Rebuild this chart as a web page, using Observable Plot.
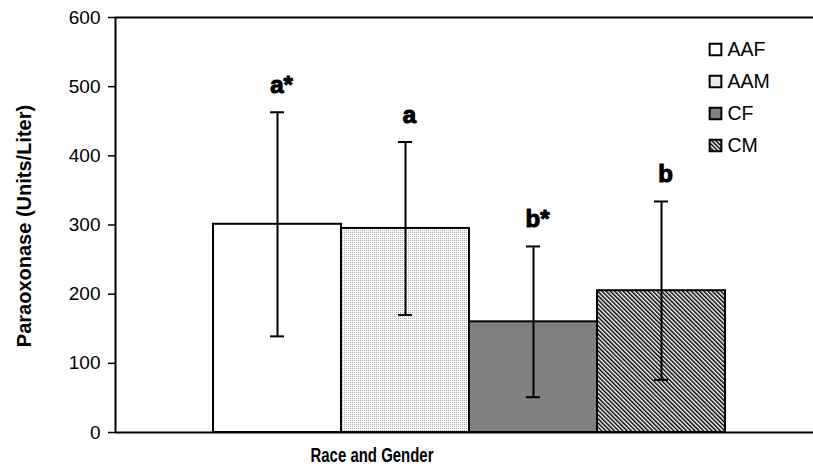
<!DOCTYPE html>
<html>
<head>
<meta charset="utf-8">
<script src="https://cdn.jsdelivr.net/npm/d3@7"></script>
<script src="https://cdn.jsdelivr.net/npm/@observablehq/plot@0.6"></script>
<style>
  html, body { margin: 0; padding: 0; background: #fff; }
  #chart svg { display: block; }
</style>
</head>
<body>
<div id="chart"></div>
<script>
// Serum paraoxonase activity by race and gender (mean ± SD)
const groups = ["AAF", "AAM", "CF", "CM"];
const means = [301, 295, 160, 205];
const sds = [162, 125, 109, 129];
const letters = ["a*", "a", "b*", "b"];
const yTicks = [0, 100, 200, 300, 400, 500, 600];
const yLabel = "Paraoxonase (Units/Liter)";
const xLabel = "Race and Gender";

// fill for each group: white, light stipple, solid gray, diagonal hatch
const fills = ["white", "url(#stipple)", "#808080", "url(#hatch)"];

const rows = groups.map((g, i) => ({
  group: g,
  mean: means[i],
  lo: means[i] - sds[i],
  hi: means[i] + sds[i],
  letter: letters[i],
  fill: fills[i]
}));

const font = "'Liberation Sans', Arial, sans-serif";

// legend swatches and labels stacked in the top-right corner
const legendMarks = groups.flatMap((g, i) => [
  Plot.dot([g], {
    frameAnchor: "top-left", dx: 600, dy: 32 + i * 32,
    symbol: "square", r: 6.6, fill: fills[i], stroke: "black", strokeWidth: 2
  }),
  Plot.text([g], {
    frameAnchor: "top-left", dx: 612, dy: 32 + i * 32,
    text: d => d, textAnchor: "start", lineAnchor: "middle", fontSize: 19.5, fill: "black"
  })
]);

const chart = Plot.plot({
  width: 813,
  height: 474,
  marginTop: 17,
  marginBottom: 42,
  marginLeft: 115,
  marginRight: -3,
  style: { fontFamily: font, background: "white", color: "black" },
  x: { domain: groups, paddingInner: 0, paddingOuter: 0.724, align: 0.516, axis: null },
  y: { domain: [0, 600], ticks: yTicks, axis: null },
  color: { type: "identity" },
  marks: [
    Plot.barY(rows, { x: "group", y: "mean", fill: "fill", stroke: "black", strokeWidth: 2 }),
    Plot.frame({ stroke: "black", strokeWidth: 2 }),
    Plot.axisY(yTicks, { tickSize: 7, tickPadding: 8, fontSize: 19, label: null, strokeWidth: 1.5 }),
    // error bars
    Plot.ruleX(rows, { x: "group", y1: "lo", y2: "hi", stroke: "black", strokeWidth: 2 }),
    Plot.tickY(rows, { x: "group", y: "lo", insetLeft: 57, insetRight: 57, stroke: "black", strokeWidth: 2 }),
    Plot.tickY(rows, { x: "group", y: "hi", insetLeft: 57, insetRight: 57, stroke: "black", strokeWidth: 2 }),
    // significance letters above each bar
    Plot.text(rows, {
      x: "group", y: "hi", text: "letter", dy: -27, dx: 4,
      fontSize: 24, fontWeight: "bold", fill: "black", stroke: "black", strokeWidth: 1.1
    }),
    // axis titles
    Plot.text([yLabel], {
      frameAnchor: "left", dx: -91, dy: 1, rotate: -90, textAnchor: "middle",
      fontSize: 20, fontWeight: "bold", fill: "black"
    }),
    Plot.text([xLabel], {
      frameAnchor: "bottom", dx: -94, dy: 29, textAnchor: "middle",
      fontSize: 21, fontWeight: "bold", fill: "black"
    }),
    ...legendMarks
  ]
});

// fill patterns used by the AAM and CM bars
d3.select(chart).insert("defs", ":first-child").html(`
  <pattern id="stipple" width="2" height="2" patternUnits="userSpaceOnUse">
    <rect width="2" height="2" fill="#ffffff"></rect>
    <rect width="1" height="1" fill="#a8a8a8"></rect>
  </pattern>
  <pattern id="hatch" width="3" height="3" patternUnits="userSpaceOnUse" patternTransform="rotate(-45)">
    <rect width="3" height="3" fill="#ffffff"></rect>
    <rect width="1.5" height="3" fill="#000000"></rect>
  </pattern>
`);

// the x-axis title is set in a condensed face
d3.select(chart).selectAll("text")
  .filter(function() { return this.textContent === xLabel; })
  .attr("textLength", 123)
  .attr("lengthAdjust", "spacingAndGlyphs");

document.getElementById("chart").append(chart);
</script>
</body>
</html>
